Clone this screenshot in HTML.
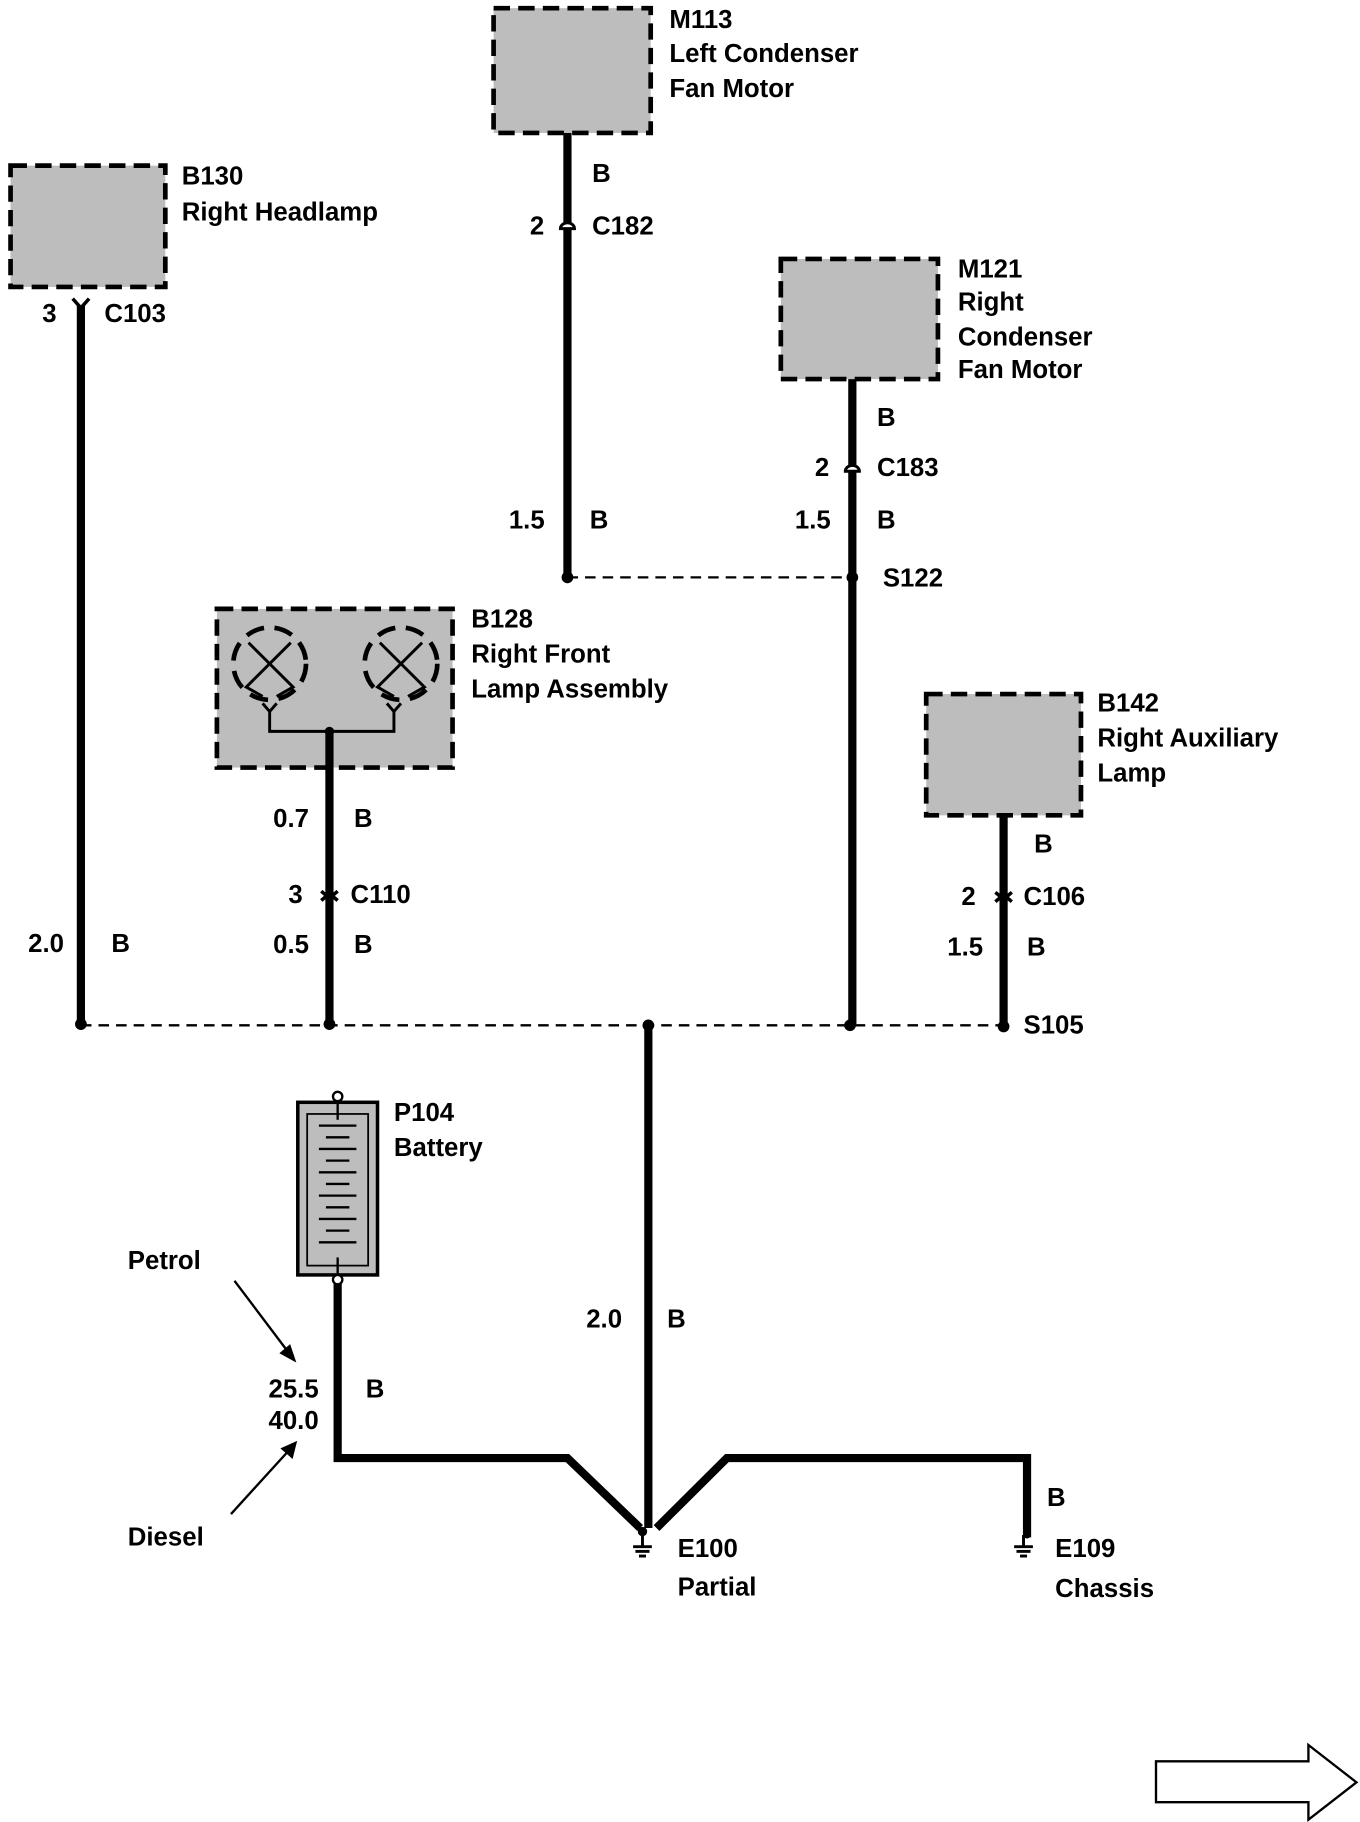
<!DOCTYPE html>
<html><head><meta charset="utf-8"><style>
html,body{margin:0;padding:0;background:#fff;}
svg{display:block;}
text{font-family:"Liberation Sans",Arial,sans-serif;font-weight:bold;font-size:22px;fill:#000;}
</style></head><body>
<svg width="1360" height="1822" viewBox="0 0 1160 1562" preserveAspectRatio="none" xmlns="http://www.w3.org/2000/svg">
<g fill="#bdbdbd" stroke="#000" stroke-width="4" stroke-dasharray="14,7">
<rect x="421" y="7" width="134" height="107"/>
<rect x="9" y="142" width="132" height="104"/>
<rect x="666" y="222" width="134" height="103"/>
<rect x="185" y="522" width="201" height="136"/>
<rect x="790" y="595" width="132" height="104"/>
</g>
<!-- lamps -->
<g fill="none" stroke="#000" stroke-width="4" stroke-dasharray="16,9">
<circle cx="230" cy="569" r="31"/>
<circle cx="342" cy="569" r="31"/>
</g>
<g fill="none" stroke="#000" stroke-width="2.5">
<path d="M212 551 L250 589 L236 597 M248 551 L210 589 L224 597"/>
<path d="M324 551 L362 589 L348 597 M360 551 L322 589 L336 597"/>
<path d="M224 603 L230 610 L236 603 M230 610 V627 H336 V610 M330 603 L336 610 L342 603"/>
</g>
<circle cx="281" cy="627" r="4"/>
<!-- wires -->
<g stroke="#000" stroke-width="7" fill="none">
<line x1="484" y1="114" x2="484" y2="495"/>
<line x1="727" y1="325" x2="727" y2="878"/>
<line x1="69" y1="262" x2="69" y2="878"/>
<line x1="281" y1="627" x2="281" y2="878"/>
<line x1="856" y1="699" x2="856" y2="879"/>
<line x1="553" y1="879" x2="553" y2="1310"/>
<path d="M288 1100 V1250 H484 L546 1310"/>
<path d="M560 1310 L620 1250 H876 V1318"/>
</g>
<g stroke="#000" stroke-width="2" stroke-dasharray="9,6">
<line x1="484" y1="495" x2="727" y2="495"/>
<line x1="69" y1="879" x2="856" y2="879"/>
</g>
<g fill="#000">
<circle cx="484" cy="495" r="5"/><circle cx="727" cy="495" r="5"/>
<circle cx="69" cy="878" r="5"/><circle cx="281" cy="878" r="5"/><circle cx="553" cy="879" r="5"/><circle cx="725" cy="879" r="5"/><circle cx="856" cy="880" r="5"/>
</g>
<!-- connectors -->
<g fill="#fff" stroke="#000" stroke-width="2.5">
<path d="M478 196 a6 5 0 0 1 12 0 Z"/>
<path d="M721 404 a6 5 0 0 1 12 0 Z"/>
</g>
<g stroke="#000" stroke-width="3" fill="none">
<path d="M62 256 L69 264 L76 256"/>
<path d="M274 764 L281 770 L288 764 M274 772 L281 766 L288 772"/>
<path d="M849 765 L856 771 L863 765 M849 773 L856 767 L863 773"/>
</g>
<!-- battery -->
<rect x="254" y="945" width="68" height="148" fill="#bdbdbd" stroke="#000" stroke-width="3"/>
<rect x="262" y="955" width="52" height="130" fill="none" stroke="#000" stroke-width="1.5"/>
<g stroke="#000" stroke-width="2">
<line x1="288" y1="945" x2="288" y2="960"/>
<line x1="288" y1="1078" x2="288" y2="1093"/>
<line x1="272" y1="965" x2="304" y2="965"/><line x1="278" y1="975" x2="298" y2="975"/>
<line x1="272" y1="985" x2="304" y2="985"/><line x1="278" y1="995" x2="298" y2="995"/>
<line x1="272" y1="1005" x2="304" y2="1005"/><line x1="278" y1="1015" x2="298" y2="1015"/>
<line x1="272" y1="1025" x2="304" y2="1025"/><line x1="278" y1="1035" x2="298" y2="1035"/>
<line x1="272" y1="1045" x2="304" y2="1045"/><line x1="278" y1="1055" x2="298" y2="1055"/>
<line x1="272" y1="1065" x2="304" y2="1065"/>
</g>
<circle cx="288" cy="940" r="4" fill="#fff" stroke="#000" stroke-width="2"/>
<circle cx="288" cy="1097" r="4" fill="#fff" stroke="#000" stroke-width="2"/>
<!-- arrows petrol/diesel -->
<g stroke="#000" stroke-width="2" fill="#000">
<line x1="200" y1="1098" x2="245" y2="1158"/><path d="M251 1166 L240 1160 L247 1154 Z"/>
<line x1="197" y1="1298" x2="245" y2="1245"/><path d="M252 1237 L249 1249 L241 1242 Z"/>
</g>
<!-- grounds -->
<g stroke="#000" stroke-width="2.5">
<line x1="548" y1="1316" x2="548" y2="1326"/><line x1="540" y1="1326" x2="556" y2="1326"/><line x1="542" y1="1330" x2="554" y2="1330"/><line x1="545" y1="1334" x2="551" y2="1334"/>
<line x1="873" y1="1316" x2="873" y2="1326"/><line x1="865" y1="1326" x2="881" y2="1326"/><line x1="867" y1="1330" x2="879" y2="1330"/><line x1="870" y1="1334" x2="876" y2="1334"/>
</g>
<circle cx="548" cy="1313" r="4"/><circle cx="876" cy="1316" r="3"/>
<!-- big arrow -->
<path d="M986 1510 H1116 V1496 L1157 1528 L1116 1560 V1545 H986 Z" fill="#fff" stroke="#000" stroke-width="2"/>
<!-- text -->
<text x="571" y="24">M113</text><text x="571" y="53">Left Condenser</text><text x="571" y="83">Fan Motor</text>
<text x="155" y="158">B130</text><text x="155" y="189">Right Headlamp</text>
<text x="817" y="238">M121</text><text x="817" y="266">Right</text><text x="817" y="296">Condenser</text><text x="817" y="324">Fan Motor</text>
<text x="402" y="538">B128</text><text x="402" y="568">Right Front</text><text x="402" y="598">Lamp Assembly</text>
<text x="936" y="610">B142</text><text x="936" y="640">Right Auxiliary</text><text x="936" y="670">Lamp</text>
<text x="336" y="961">P104</text><text x="336" y="991">Battery</text>
<text x="505" y="156">B</text><text x="452" y="201">2</text><text x="505" y="201">C182</text>
<text x="434" y="453">1.5</text><text x="503" y="453">B</text>
<text x="748" y="365">B</text><text x="695" y="408">2</text><text x="748" y="408">C183</text>
<text x="678" y="453">1.5</text><text x="748" y="453">B</text>
<text x="753" y="503">S122</text>
<text x="36" y="276">3</text><text x="89" y="276">C103</text>
<text x="24" y="816">2.0</text><text x="95" y="816">B</text>
<text x="233" y="709">0.7</text><text x="302" y="709">B</text>
<text x="246" y="774">3</text><text x="299" y="774">C110</text>
<text x="233" y="817">0.5</text><text x="302" y="817">B</text>
<text x="882" y="731">B</text><text x="820" y="776">2</text><text x="873" y="776">C106</text>
<text x="808" y="819">1.5</text><text x="876" y="819">B</text>
<text x="873" y="886">S105</text>
<text x="500" y="1138">2.0</text><text x="569" y="1138">B</text>
<text x="109" y="1088">Petrol</text><text x="109" y="1325">Diesel</text>
<text x="229" y="1198">25.5</text><text x="229" y="1225">40.0</text><text x="312" y="1198">B</text>
<text x="578" y="1335">E100</text><text x="578" y="1368">Partial</text>
<text x="893" y="1291">B</text>
<text x="900" y="1335">E109</text><text x="900" y="1369">Chassis</text>
</svg>
</body></html>
